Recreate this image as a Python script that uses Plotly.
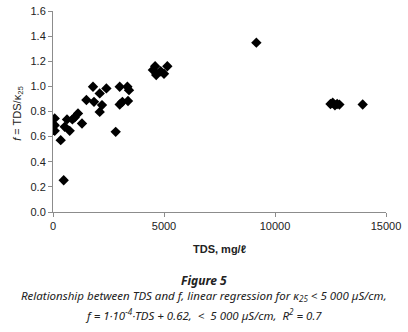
import plotly.graph_objects as go

# Data
tds = [77, 77, 77, 347, 482, 527, 631, 752, 874, 977, 1126, 1306,
       1505, 1802, 1847, 2104, 2207, 2104, 2405, 2824, 3005, 3005, 3126, 3351, 3423, 3378,
       4500, 4600, 4650, 4850, 5000, 5150,
       9160,
       12500, 12600, 12700, 12800, 12900, 13950]
f_vals = [0.745, 0.691, 0.646, 0.572, 0.253, 0.678, 0.737, 0.646, 0.737, 0.753, 0.785, 0.705,
          0.891, 0.997, 0.877, 0.944, 0.851, 0.797, 0.984, 0.638, 0.997, 0.856, 0.877, 0.997, 0.97, 0.883,
          1.13, 1.16, 1.09, 1.12, 1.10, 1.16,
          1.348,
          0.86, 0.87, 0.85, 0.86, 0.855, 0.856]

x_ticks = [0, 5000, 10000, 15000]
y_ticks = [0.0, 0.2, 0.4, 0.6, 0.8, 1.0, 1.2, 1.4, 1.6]

fig = go.Figure()
fig.add_trace(go.Scatter(
    x=tds, y=f_vals, mode="markers",
    marker=dict(symbol="diamond", size=8, color="black", line=dict(width=0)),
    showlegend=False,
))

axis_font = dict(family="Liberation Sans, Arial, sans-serif", size=11, color="#222")
fig.update_layout(
    width=408, height=332,
    margin=dict(l=53, r=22, t=11, b=120, autoexpand=False),
    paper_bgcolor="white", plot_bgcolor="white",
    xaxis=dict(range=[0, 15000], tickvals=x_ticks, ticktext=[str(v) for v in x_ticks],
               showgrid=False, zeroline=False, showline=True, linecolor="#8c8c8c", linewidth=1,
               ticks="outside", ticklen=4, tickcolor="#8c8c8c", tickfont=axis_font),
    yaxis=dict(range=[0, 1.6], tickvals=y_ticks, tickformat=".1f",
               showgrid=False, zeroline=False, showline=True, linecolor="#8c8c8c", linewidth=1,
               ticks="outside", ticklen=4, tickcolor="#8c8c8c", tickfont=axis_font),
)

def py2paper(py):
    return (211.7 - py) / 200.7

cx = (204 - 53.3) / 332.7
cap_font = dict(family="Noto Sans, sans-serif", size=11.5, color="#222")
annos = [
    dict(text="<b>TDS, mg/ℓ</b>", x=0.5, y=py2paper(249), font=dict(family="Liberation Sans, sans-serif", size=11, color="#222")),
    dict(text="<b><i>Figure 5</i></b>", x=cx, y=py2paper(280), font=dict(family="Noto Sans, sans-serif", size=12, color="#222")),
    dict(text="<i>Relationship between TDS and f, linear regression for κ<sub>25</sub> &lt; 5 000 µS/cm,</i>",
         x=cx, y=py2paper(296), font=cap_font),
    dict(text="<i>f = 1·10<sup>-4</sup>·TDS + 0.62,  &lt;  5 000 µS/cm,  R<sup>2</sup> = 0.7</i>",
         x=cx, y=py2paper(314), font=cap_font),
    dict(text="<i>f</i> = TDS/κ<sub>25</sub>", x=(18 - 53.3) / 332.7, y=py2paper(113), textangle=-90,
         font=dict(family="Liberation Sans, sans-serif", size=11, color="#222")),
]
for a in annos:
    fig.add_annotation(xref="paper", yref="paper", showarrow=False,
                       xanchor="center", yanchor="middle", **a)

fig.write_html("out.html", config={"displayModeBar": False},
               post_script="document.body.style.margin='0';")
